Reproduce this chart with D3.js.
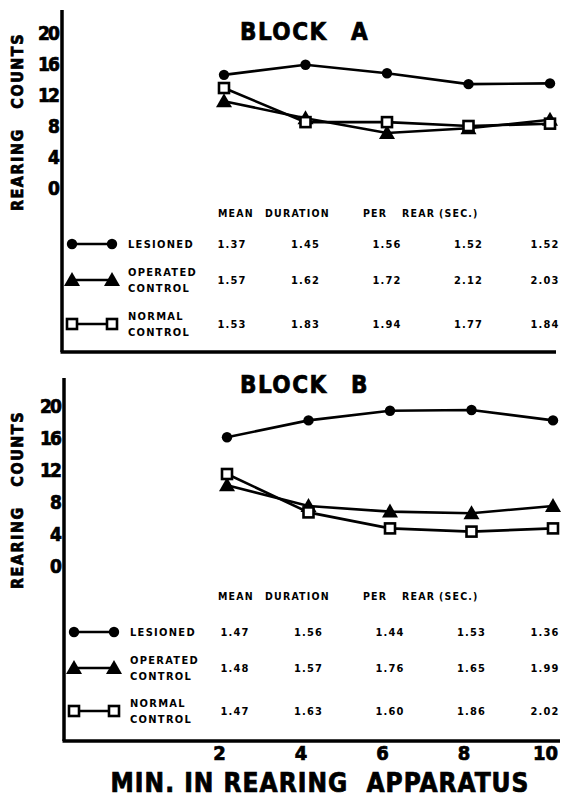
<!DOCTYPE html>
<html lang="en">
<head>
<meta charset="UTF-8">
<title>Rearing Counts - Block A / Block B</title>
<style>
    body { margin: 0; background: #fff; }
    svg text { font-family: "DejaVu Sans Condensed", "Liberation Sans Narrow", sans-serif; font-weight: bold; fill: #000; white-space: pre; }
    .heavy { stroke: #000; stroke-width: 0.7px; }
</style>
</head>
<body>
<div id="chart"></div>
<script src="https://d3js.org/d3.v7.min.js"></script>
<script>
// data
const minutes = [2, 4, 6, 8, 10];
const yTicks = [0, 4, 8, 12, 16, 20];
const groups = ["LESIONED", "OPERATED\nCONTROL", "NORMAL\nCONTROL"];
const markers = ["circle", "triangle", "square"];

const countsALesioned = [14.6, 15.9, 14.8, 13.4, 13.5];
const countsAOperated = [11.2, 9.0, 7.1, 7.7, 8.8];
const countsANormal = [12.9, 8.5, 8.5, 8.0, 8.3];

const countsBLesioned = [16.1, 18.2, 19.4, 19.5, 18.2];
const countsBOperated = [10.1, 7.5, 6.8, 6.6, 7.5];
const countsBNormal = [11.5, 6.7, 4.7, 4.3, 4.7];

const durALesioned = ["1.37", "1.45", "1.56", "1.52", "1.52"];
const durAOperated = ["1.57", "1.62", "1.72", "2.12", "2.03"];
const durANormal = ["1.53", "1.83", "1.94", "1.77", "1.84"];

const durBLesioned = ["1.47", "1.56", "1.44", "1.53", "1.36"];
const durBOperated = ["1.48", "1.57", "1.76", "1.65", "1.99"];
const durBNormal = ["1.47", "1.63", "1.60", "1.86", "2.02"];

const width = 566, height = 797;

const svg = d3.select("#chart").append("svg")
    .attr("width", width)
    .attr("height", height);

function drawMarker(g, type, x, y) {
    if (type === "circle") {
        g.append("circle").attr("cx", x).attr("cy", y).attr("r", 5.2).attr("fill", "#000");
    } else if (type === "triangle") {
        const s = 7;
        g.append("path")
            .attr("d", `M${x},${y - s - 1}L${x + s + 1},${y + s - 1}L${x - s - 1},${y + s - 1}Z`)
            .attr("fill", "#000");
    } else {
        g.append("rect").attr("x", x - 5).attr("y", y - 5).attr("width", 10).attr("height", 10)
            .attr("fill", "#fff").attr("stroke", "#000").attr("stroke-width", 2.6);
    }
}

function drawBlock(cfg) {
    const g = svg.append("g");
    const x = d3.scaleLinear().domain([2, 10]).range(cfg.xRange);
    const y = d3.scaleLinear().domain([0, 20]).range(cfg.yRange);

    // axis frame
    g.append("line")
        .attr("x1", cfg.axisX).attr("x2", cfg.axisX)
        .attr("y1", cfg.axisTop).attr("y2", cfg.axisBottom)
        .attr("stroke", "#000").attr("stroke-width", 3.5);
    g.append("line")
        .attr("x1", cfg.axisX - 1.5).attr("x2", cfg.axisRight)
        .attr("y1", cfg.axisBottom).attr("y2", cfg.axisBottom)
        .attr("stroke", "#000").attr("stroke-width", 3.5);

    // y ticks
    const yAxis = g.append("g")
        .attr("transform", `translate(${cfg.axisX - 1},0)`)
        .call(d3.axisLeft(y).tickValues(yTicks).tickSize(0).tickPadding(1));
    yAxis.select(".domain").remove();
    yAxis.selectAll("text")
        .attr("class", "heavy")
        .style("font-size", "19px")
        .style("font-family", "'DejaVu Sans Condensed', sans-serif")
        .style("font-weight", "bold")
        .attr("fill", "#000")
        .attr("dy", "0.36em")
        .attr("textLength", d => d >= 10 ? 22 : null);

    // y title
    g.append("text")
        .attr("class", "heavy")
        .attr("transform", `translate(23,${cfg.yTitleY}) rotate(-90)`)
        .attr("text-anchor", "middle")
        .style("font-size", "16px")
        .style("letter-spacing", "1.5px")
        .text("REARING   COUNTS");

    // block title
    g.append("text").attr("class", "heavy").attr("x", 240).attr("y", cfg.titleY)
        .style("font-size", "24px").style("letter-spacing", "1.5px")
        .text("BLOCK");
    g.append("text").attr("class", "heavy").attr("x", 351).attr("y", cfg.titleY)
        .style("font-size", "24px")
        .text(cfg.letter);

    // series lines and markers
    const line = d3.line().x((d, i) => x(minutes[i])).y(d => y(d));
    cfg.series.forEach(vals => {
        g.append("path")
            .datum(vals)
            .attr("d", line)
            .attr("fill", "none")
            .attr("stroke", "#000")
            .attr("stroke-width", 2.6);
    });
    // markers after all lines so hollow squares sit on top
    [1, 2, 0].forEach(si => {
        cfg.series[si].forEach((v, i) => drawMarker(g, markers[si], x(minutes[i]), y(v)));
    });

    // table header
    const header = [["MEAN", 218], ["DURATION", 265], ["PER", 363], ["REAR", 402], ["(SEC.)", 439]];
    header.forEach(([t, hx]) => {
        g.append("text").attr("x", hx).attr("y", cfg.headerY)
            .style("font-size", "10.5px").style("letter-spacing", "1.2px")
            .text(t);
    });

    // table rows
    cfg.rows.forEach((vals, ri) => {
        const ry = cfg.rowY[ri];
        const lx1 = cfg.legendX, lx2 = cfg.legendX + 40;
        g.append("line")
            .attr("x1", lx1).attr("x2", lx2).attr("y1", ry).attr("y2", ry)
            .attr("stroke", "#000").attr("stroke-width", 2.4);
        drawMarker(g, markers[ri], lx1, ry);
        drawMarker(g, markers[ri], lx2, ry);

        const lines = groups[ri].split("\n");
        lines.forEach((t, li) => {
            g.append("text")
                .attr("x", cfg.legendX + 56)
                .attr("y", ry + 4 + (lines.length > 1 ? (li - 0.5) * 16 : 0))
                .style("font-size", "11px").style("letter-spacing", "1.3px")
                .text(t);
        });

        vals.forEach((v, i) => {
            g.append("text")
                .attr("x", Math.min(x(minutes[i]) + (i === 0 ? 8 : 0), 545))
                .attr("y", ry + 4)
                .attr("text-anchor", "middle")
                .style("font-size", "11px").style("letter-spacing", "1.2px")
                .text(v);
        });
    });
    return x;
}

drawBlock({
    letter: "A",
    xRange: [224, 550],
    yRange: [188, 33],
    axisX: 62, axisTop: 10, axisBottom: 352, axisRight: 556,
    yTitleY: 122, titleY: 40,
    headerY: 217,
    legendX: 72, rowY: [244, 280, 324],
    series: [countsALesioned, countsAOperated, countsANormal],
    rows: [durALesioned, durAOperated, durANormal]
});

const xB = drawBlock({
    letter: "B",
    xRange: [227, 553],
    yRange: [566, 406],
    axisX: 64, axisTop: 378, axisBottom: 741, axisRight: 560,
    yTitleY: 500, titleY: 393,
    headerY: 600,
    legendX: 74, rowY: [632, 668, 711],
    series: [countsBLesioned, countsBOperated, countsBNormal],
    rows: [durBLesioned, durBOperated, durBNormal]
});

// shared x axis at the bottom
const xAxis = svg.append("g")
    .attr("transform", "translate(-8,743)")
    .call(d3.axisBottom(xB).tickValues(minutes).tickSize(0).tickPadding(3));
xAxis.select(".domain").remove();
xAxis.selectAll("text")
    .attr("class", "heavy")
    .style("font-size", "20px")
    .style("font-family", "'DejaVu Sans Condensed', sans-serif")
    .style("font-weight", "bold")
    .attr("fill", "#000");

svg.append("text")
    .attr("class", "heavy")
    .attr("x", 320).attr("y", 792)
    .attr("text-anchor", "middle")
    .style("font-size", "26px")
    .style("letter-spacing", "1px")
    .text("MIN. IN REARING  APPARATUS");
</script>
</body>
</html>
